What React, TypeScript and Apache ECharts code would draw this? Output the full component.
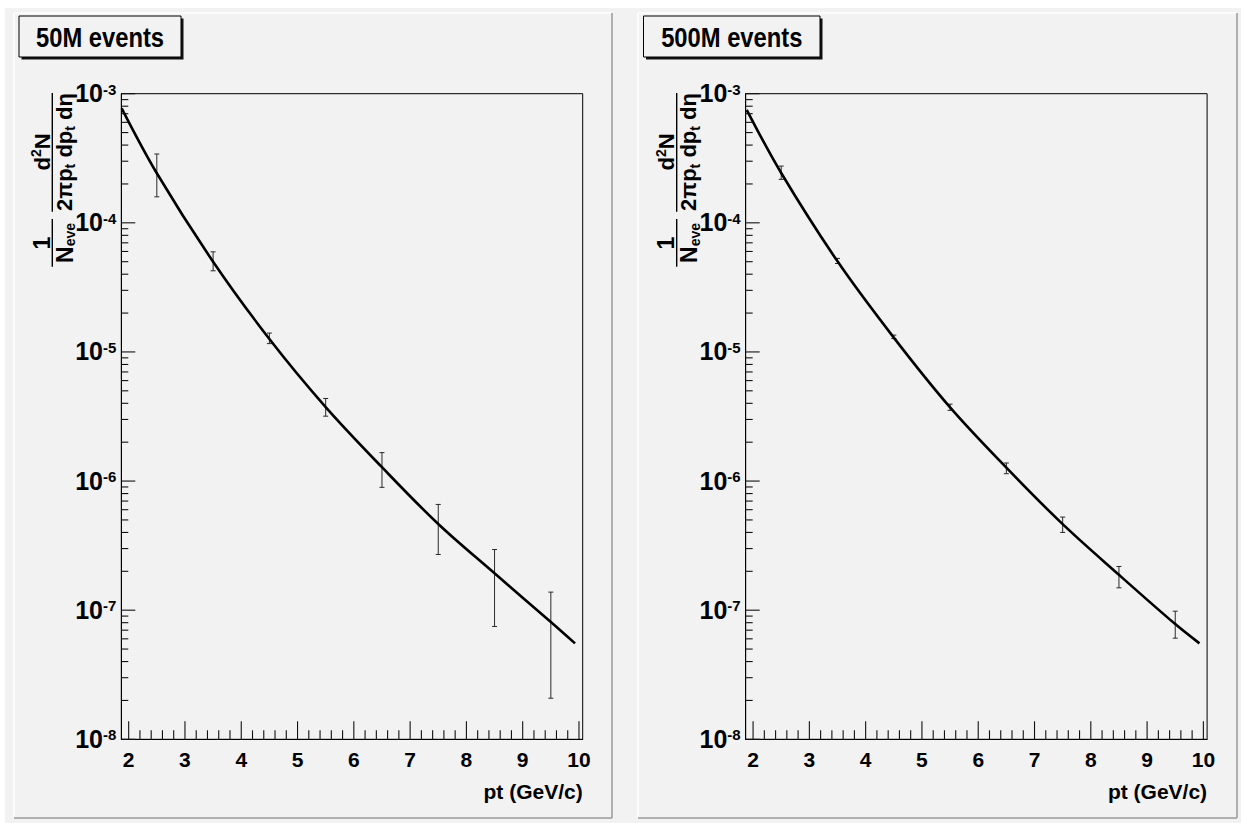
import React, { useEffect, useRef } from "react";
import * as echarts from "echarts";

// ---------- data ----------
const PANEL_TITLES = ["50M events", "500M events"];
const X_TITLE = "pt (GeV/c)";
const X_MIN = 1.869;
const X_MAX = 10.066;
const Y_MIN = 1e-8;
const Y_MAX = 1e-3;
const X_MAJOR = [2, 3, 4, 5, 6, 7, 8, 9, 10];
const X_MINOR_STEPS = [0.2, 0.4, 0.6, 0.8];
const Y_DECADES = [-8, -7, -6, -5, -4, -3];
const Y_MINOR_MANTISSAS = [2, 3, 4, 5, 6, 7, 8, 9];

// fitted curve
const fitX50 = [1.876, 2.5, 3.5, 4.5, 5.5, 6.5, 7.5, 8.5, 9.5, 9.93];
const fitY50 = [7.7e-4, 2.42e-4, 5.0e-5, 1.26e-5, 3.74e-6, 1.28e-6, 4.65e-7, 1.93e-7, 8.1e-8, 5.53e-8];
const fitX500 = [1.887, 2.5, 3.5, 4.5, 5.5, 6.5, 7.5, 8.5, 9.5, 9.93];
const fitY500 = [7.5e-4, 2.43e-4, 5.03e-5, 1.29e-5, 3.72e-6, 1.27e-6, 4.64e-7, 1.88e-7, 7.8e-8, 5.53e-8];

// error bars
const binX = [2.5, 3.5, 4.5, 5.5, 6.5, 7.5, 8.5, 9.5];
const err50Low = [1.59e-4, 4.25e-5, 1.16e-5, 3.18e-6, 8.94e-7, 2.7e-7, 7.48e-8, 2.08e-8];
const err50High = [3.41e-4, 5.96e-5, 1.4e-5, 4.36e-6, 1.66e-6, 6.59e-7, 2.95e-7, 1.38e-7];
const err500Low = [2.17e-4, 4.84e-5, 1.27e-5, 3.53e-6, 1.14e-6, 4.0e-7, 1.49e-7, 6.07e-8];
const err500High = [2.75e-4, 5.3e-5, 1.35e-5, 3.94e-6, 1.38e-6, 5.26e-7, 2.18e-7, 9.82e-8];

const FONT = "'Liberation Sans', Arial, Helvetica, sans-serif";
const NARROW = "'Liberation Sans Narrow', 'Arial Narrow', 'Liberation Sans', Arial, sans-serif";
const BG = "#f2f2f2";

const X_MINOR: number[] = [];
X_MAJOR.slice(0, -1).forEach((m) => X_MINOR_STEPS.forEach((s) => X_MINOR.push(+(m + s).toFixed(2))));
const Y_MAJOR: number[] = Y_DECADES.map((e) => Math.pow(10, e));
const Y_MINOR: number[] = [];
Y_DECADES.slice(0, -1).forEach((e) => Y_MINOR_MANTISSAS.forEach((m) => Y_MINOR.push(m * Math.pow(10, e))));

// tick rows: [x, y, kind]  kind 0: y major, 1: y minor, 2: x major, 3: x minor
const TICK_ROWS: number[][] = [
  ...Y_MAJOR.map((v) => [X_MIN, v, 0]),
  ...Y_MINOR.map((v) => [X_MIN, v, 1]),
  ...X_MAJOR.map((v) => [v, Y_MIN, 2]),
  ...X_MINOR.map((v) => [v, Y_MIN, 3]),
];
const TICK_LEN = [14, 7, 18, 9];

const GRID_LEFT = [121.3, 745.7];
const GRID_TOP = 93.7;
const GRID_W = 461.4;
const GRID_H = 645.6;

function yTitle(dx: number) {
  const a = { fontSize: 22, fontWeight: "bold", fontFamily: FONT, color: "#000", lineHeight: 24 };
  return {
    type: "group",
    x: 52.3 + dx,
    y: 0,
    rotation: Math.PI / 2,
    silent: true,
    children: [
      { type: "line", shape: { x1: -266.7, y1: 0, x2: -219, y2: 0 }, style: { stroke: "#000", lineWidth: 1.4 } },
      { type: "line", shape: { x1: -211.7, y1: 0, x2: -93, y2: 0 }, style: { stroke: "#000", lineWidth: 1.4 } },
      {
        type: "text",
        x: -243,
        y: 1,
        style: { text: "1", fontSize: 23, fontWeight: "bold", fontFamily: FONT, fill: "#000", align: "center", verticalAlign: "bottom" },
      },
      {
        type: "text",
        x: -243,
        y: 1,
        style: {
          text: "{a|N}{u|eve}",
          align: "center",
          verticalAlign: "top",
          rich: {
            a: { ...a, fontSize: 23, verticalAlign: "top" },
            u: { fontSize: 14, fontWeight: "bold", fontFamily: FONT, color: "#000", lineHeight: 6, verticalAlign: "bottom" },
          },
        },
      },
      {
        type: "text",
        x: -152,
        y: 1,
        style: {
          text: "{a|d}{s|2}{a|N}",
          align: "center",
          verticalAlign: "bottom",
          rich: {
            a: { ...a, verticalAlign: "bottom" },
            s: { fontSize: 14, fontWeight: "bold", fontFamily: FONT, color: "#000", lineHeight: 12, verticalAlign: "top" },
          },
        },
      },
      {
        type: "text",
        x: -152,
        y: 1,
        style: {
          text: "{a|2πp}{u|t}{a| dp}{u|t}{a| dη}",
          align: "center",
          verticalAlign: "top",
          rich: {
            a: { ...a, verticalAlign: "top" },
            u: { fontSize: 14, fontWeight: "bold", fontFamily: FONT, color: "#000", lineHeight: 6, verticalAlign: "bottom" },
          },
        },
      },
    ],
  };
}

function panelFrame(x: number, w: number) {
  return [
    { type: "line", shape: { x1: x, y1: 13, x2: x + w, y2: 13 }, style: { stroke: "#ffffff", lineWidth: 1.5 }, silent: true },
    { type: "line", shape: { x1: x, y1: 13, x2: x, y2: 818 }, style: { stroke: "#ffffff", lineWidth: 1.5 }, silent: true },
    { type: "line", shape: { x1: x + w, y1: 13, x2: x + w, y2: 818 }, style: { stroke: "#9a9a9a", lineWidth: 1.5 }, silent: true },
    { type: "line", shape: { x1: x, y1: 818, x2: x + w, y2: 818 }, style: { stroke: "#9a9a9a", lineWidth: 1.5 }, silent: true },
  ];
}

function titleBox(x: number, w: number, text: string) {
  return [
    { type: "rect", shape: { x: x + 2.5, y: 18.5, width: w, height: 41 }, style: { fill: "#111" }, silent: true },
    { type: "rect", shape: { x, y: 16, width: w, height: 41 }, style: { fill: BG, stroke: "#000", lineWidth: 1 }, silent: true },
    {
      type: "text",
      x: x + w / 2,
      y: 37,
      scaleX: 0.88,
      silent: true,
      style: { text, fontSize: 27, fontWeight: "bold", fontFamily: FONT, fill: "#000", align: "center", verticalAlign: "middle" },
    },
  ];
}

const errItem = (params: any, api: any) => {
  const x = api.value(0);
  const lo = api.coord([x, api.value(1)]);
  const hi = api.coord([x, api.value(2)]);
  const w = 2.5;
  const st = { stroke: "#2a2a2a", lineWidth: 1 };
  return {
    type: "group",
    children: [
      { type: "line", shape: { x1: lo[0], y1: lo[1], x2: hi[0], y2: hi[1] }, style: st },
      { type: "line", shape: { x1: lo[0] - w, y1: lo[1], x2: lo[0] + w, y2: lo[1] }, style: st },
      { type: "line", shape: { x1: hi[0] - w, y1: hi[1], x2: hi[0] + w, y2: hi[1] }, style: st },
    ],
  };
};

export default function App() {
  const ref = useRef<HTMLDivElement>(null);
  useEffect(() => {
    if (!ref.current) return;
    const chart = echarts.init(ref.current, undefined, { renderer: "svg" });
    const fits = [
      fitX50.map((x, i) => [x, fitY50[i]]),
      fitX500.map((x, i) => [x, fitY500[i]]),
    ];
    const errs = [
      binX.map((x, i) => [x, err50Low[i], err50High[i]]),
      binX.map((x, i) => [x, err500Low[i], err500High[i]]),
    ];
    const grids = GRID_LEFT.map((left) => ({
      left,
      top: GRID_TOP,
      width: GRID_W,
      height: GRID_H,
      show: true,
      borderColor: "#000",
      borderWidth: 1,
      backgroundColor: "transparent",
    }));
    const xAxes = [0, 1].map((i) => ({
      gridIndex: i,
      type: "value",
      min: X_MIN,
      max: X_MAX,
      axisLine: { show: true, onZero: false, lineStyle: { color: "#000", width: 1 } },
      axisTick: { show: false },
      axisLabel: { customValues: X_MAJOR, margin: 10, fontSize: 21, fontWeight: "bold", color: "#000", fontFamily: FONT },
      splitLine: { show: false },
    }));
    const yAxes = [0, 1].map((i) => ({
      gridIndex: i,
      type: "log",
      logBase: 10,
      min: Y_MIN,
      max: Y_MAX,
      splitNumber: 5,
      axisLine: { show: true, lineStyle: { color: "#000", width: 1 } },
      axisTick: { show: false },
      axisLabel: {
        margin: 5,
        formatter: (v: number) => `{b|10}{s|${Math.round(Math.log10(v))}}`,
        rich: {
          b: { fontSize: 25, fontWeight: "bold", fontFamily: NARROW, color: "#000", lineHeight: 24, padding: [9, 0, 0, 0], verticalAlign: "bottom" },
          s: { fontSize: 15, fontWeight: "bold", fontFamily: NARROW, color: "#000", lineHeight: 17, verticalAlign: "top" },
        },
      },
      splitLine: { show: false },
    }));
    const series: any[] = [];
    [0, 1].forEach((i) => {
      series.push({
        type: "custom",
        xAxisIndex: i,
        yAxisIndex: i,
        silent: true,
        renderItem: errItem,
        encode: { x: 0, y: [1, 2] },
        data: errs[i],
      });
      series.push({
        type: "line",
        xAxisIndex: i,
        yAxisIndex: i,
        silent: true,
        smooth: 0.35,
        showSymbol: false,
        lineStyle: { color: "#000", width: 2.6 },
        data: fits[i],
      });
    });
    const graphic: any[] = [
      { type: "rect", shape: { x: 0, y: 0, width: 1241, height: 8 }, style: { fill: "#ffffff" }, silent: true },
      { type: "rect", shape: { x: 0, y: 0, width: 5, height: 823 }, style: { fill: "#ffffff" }, silent: true },
      ...panelFrame(14, 598),
      ...panelFrame(638, 599),
      ...titleBox(19, 162, PANEL_TITLES[0]),
      ...titleBox(643.5, 176.5, PANEL_TITLES[1]),
      yTitle(0),
      yTitle(624.4),
      {
        type: "text",
        x: 582.7,
        y: 791.7,
        silent: true,
        style: { text: X_TITLE, fontSize: 21, fontWeight: "bold", fontFamily: FONT, fill: "#000", align: "right", verticalAlign: "middle" },
      },
      {
        type: "text",
        x: 1207.1,
        y: 791.7,
        silent: true,
        style: { text: X_TITLE, fontSize: 21, fontWeight: "bold", fontFamily: FONT, fill: "#000", align: "right", verticalAlign: "middle" },
      },
    ];
    chart.setOption({
      animation: false,
      backgroundColor: BG,
      graphic,
      grid: grids,
      xAxis: xAxes,
      yAxis: yAxes,
      series,
    });
    // axis ticks placed through the library's own scales
    const ticks: any[] = [];
    [0, 1].forEach((i) => {
      TICK_ROWS.forEach(([x, y, kind]) => {
        const p = chart.convertToPixel({ xAxisIndex: i, yAxisIndex: i }, [x, y]) as number[];
        if (!p || isNaN(p[0]) || isNaN(p[1])) return;
        const len = TICK_LEN[kind];
        const shape =
          kind < 2
            ? { x1: p[0], y1: p[1], x2: p[0] + len, y2: p[1] }
            : { x1: p[0], y1: p[1], x2: p[0], y2: p[1] - len };
        ticks.push({ type: "line", silent: true, z: 50, shape, style: { stroke: "#111", lineWidth: 1.1 } });
      });
    });
    chart.setOption({ graphic: [...graphic, ...ticks] });
    return () => chart.dispose();
  }, []);
  return <div ref={ref} style={{ position: "fixed", left: 0, top: 0, width: 1241, height: 823 }} />;
}
